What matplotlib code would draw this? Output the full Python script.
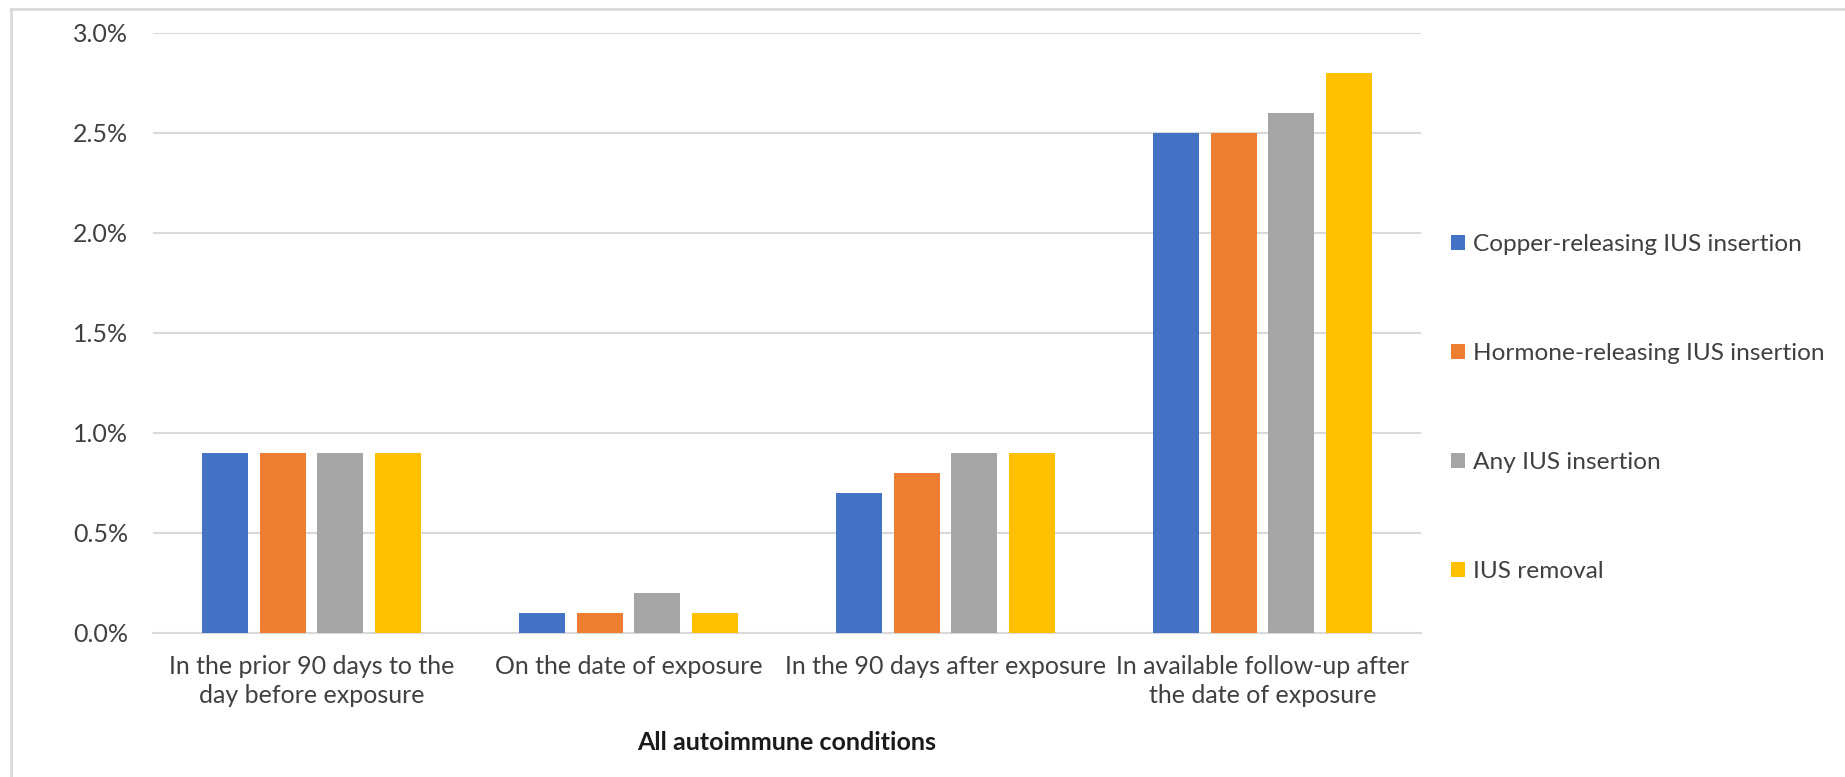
import numpy as np
import matplotlib
matplotlib.use("Agg")
import matplotlib.pyplot as plt
from matplotlib.patches import Patch
from matplotlib.lines import Line2D
from matplotlib.ticker import FuncFormatter, MultipleLocator

plt.rcParams['font.family'] = ['Lato', 'DejaVu Sans']

# data (percent of patients)
categories = [
    "In the prior 90 days to the\nday before exposure",
    "On the date of exposure",
    "In the 90 days after exposure",
    "In available follow-up after\nthe date of exposure",
]
series_names = [
    "Copper-releasing IUS insertion",
    "Hormone-releasing IUS insertion",
    "Any IUS insertion",
    "IUS removal",
]
copper = [0.9, 0.1, 0.7, 2.5]
hormone = [0.9, 0.1, 0.8, 2.5]
any_ius = [0.9, 0.2, 0.9, 2.6]
removal = [0.9, 0.1, 0.9, 2.8]
series_values = [copper, hormone, any_ius, removal]
colors = ["#4472C4", "#ED7D31", "#A5A5A5", "#FFC000"]

W, H = 1845, 777
fig = plt.figure(figsize=(W / 100, H / 100), dpi=100)
ax = fig.add_axes([153 / W, (H - 633) / H, (1421 - 153) / W, 600 / H])

x = np.arange(len(categories))
pitch = 0.1814
bar_w = 0.145
for i, (vals, col) in enumerate(zip(series_values, colors)):
    ax.bar(x + (i - 1.5) * pitch, vals, width=bar_w, color=col, zorder=3)

ax.set_xlim(-0.5, len(categories) - 0.5)
ax.set_ylim(0, 3.0)
ax.yaxis.set_major_locator(MultipleLocator(0.5))
ax.yaxis.set_major_formatter(FuncFormatter(lambda v, p: f"{v:.1f}%"))
ax.grid(axis='y', color='#D9D9D9', lw=1.5, zorder=0)

ax.set_xticks(x)
ax.set_xticklabels(categories, linespacing=1.3)
ax.tick_params(axis='both', length=0, labelsize=18, colors='#404040')
ax.tick_params(axis='y', pad=18)
ax.tick_params(axis='x', pad=16)

for s in ['top', 'right', 'left']:
    ax.spines[s].set_visible(False)
ax.spines['bottom'].set_color('#D9D9D9')
ax.spines['bottom'].set_linewidth(1.5)

ax.set_xlabel("All autoimmune conditions", fontsize=18, fontweight='bold',
              color='#1a1a1a', labelpad=17)

# legend
handles = [Patch(facecolor=c, edgecolor='none') for c in colors]
fig.legend(handles, series_names, loc='center left',
           bbox_to_anchor=(1451 / W, 1 - 408 / H), frameon=False,
           fontsize=17.6, labelcolor='#404040', handlelength=0.56,
           handleheight=0.56, handletextpad=0.35, labelspacing=3.6,
           borderpad=0, borderaxespad=0)

# chart area border (top and left only visible in crop)
fig.add_artist(Line2D([11 / W, 11 / W], [0, 1 - 9 / H], transform=fig.transFigure,
                      color='#D9D9D9', lw=2))
fig.add_artist(Line2D([11 / W, 1], [1 - 9 / H, 1 - 9 / H], transform=fig.transFigure,
                      color='#D9D9D9', lw=2))

fig.savefig("out.png", dpi=100, facecolor='white')
